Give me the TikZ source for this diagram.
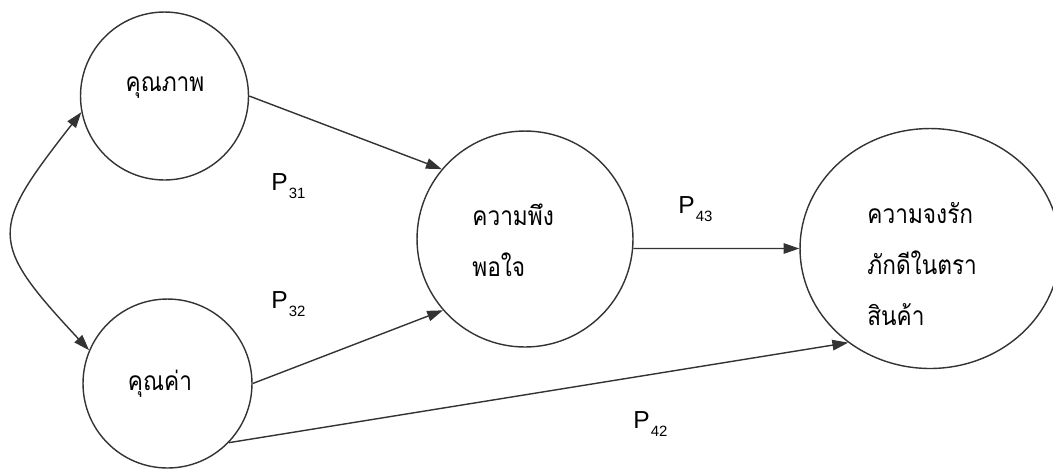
\documentclass[tikz,border=0pt]{standalone}
\usepackage{fontspec}
\setmainfont{Liberation Sans}
\newfontfamily\thaifont[Script=Thai, FakeStretch=0.86]{Loma}
\usepackage{tikz}
\usetikzlibrary{shapes.geometric, arrows.meta, positioning}
\definecolor{lineclr}{rgb}{0.2, 0.2, 0.2}
\tikzstyle{latent} = [circle, draw=lineclr, line width=0.8pt, inner sep=0pt]
\tikzstyle{varname} = [font=\thaifont\fontsize{15}{29}\selectfont, align=left, inner sep=0pt]
\tikzstyle{pathlbl} = [font=\fontsize{14}{14}\selectfont, inner sep=0pt, anchor=base west]
\tikzstyle{arrow} = [lineclr, line width=0.8pt, -{Triangle[length=9pt, width=6pt]}]
\newcommand{\pcoef}[1]{P\kern0.6pt\raisebox{-5pt}{\fontsize{8.5}{8.5}\selectfont #1}}

\begin{document}
\begin{tikzpicture}[x=0.02cm, y=-0.02cm]
    \useasboundingbox (0,0) rectangle (1053,468);
    % latent variables
    \node (qual) [latent, minimum size=3.36cm] at (164.5,96) {};
    \node (val) [latent, minimum size=3.38cm] at (167.5,383.5) {};
    \node (sat) [latent, minimum size=4.32cm] at (525,239) {};
    \node (loy) [latent, ellipse, minimum width=5.2cm, minimum height=4.8cm] at (930,248.5) {};
    % names
    \node (qualtxt) [varname] at (165,88) {คุณภาพ};
    \node (valtxt) [varname] at (160,384) {คุณค่า};
    \node (sattxt) [varname, anchor=west] at (472,240) {ความพึง\\พอใจ};
    \node (loytxt) [varname, anchor=west] at (867,264) {ความจงรัก\\ภักดีในตรา\\สินค้า};
    % paths
    \draw [arrow, {Triangle[length=9pt, width=6pt]}-{Triangle[length=9pt, width=6pt]}] (qual.191) to[out=232, in=133, looseness=1.6] (val.157);
    \draw [arrow] (qual.east) -- (sat.140);
    \draw [arrow] (val.east) -- (sat.221);
    \draw [arrow] (sat.-5) -- (loy.west);
    \draw [arrow] (val.-44) -- (loy.229);
    % coefficients
    \node (p31) [pathlbl] at (271,190) {\pcoef{31}};
    \node (p32) [pathlbl] at (271,308) {\pcoef{32}};
    \node (p43) [pathlbl] at (678,213) {\pcoef{43}};
    \node (p42) [pathlbl] at (633,428) {\pcoef{42}};
\end{tikzpicture}
\end{document}
